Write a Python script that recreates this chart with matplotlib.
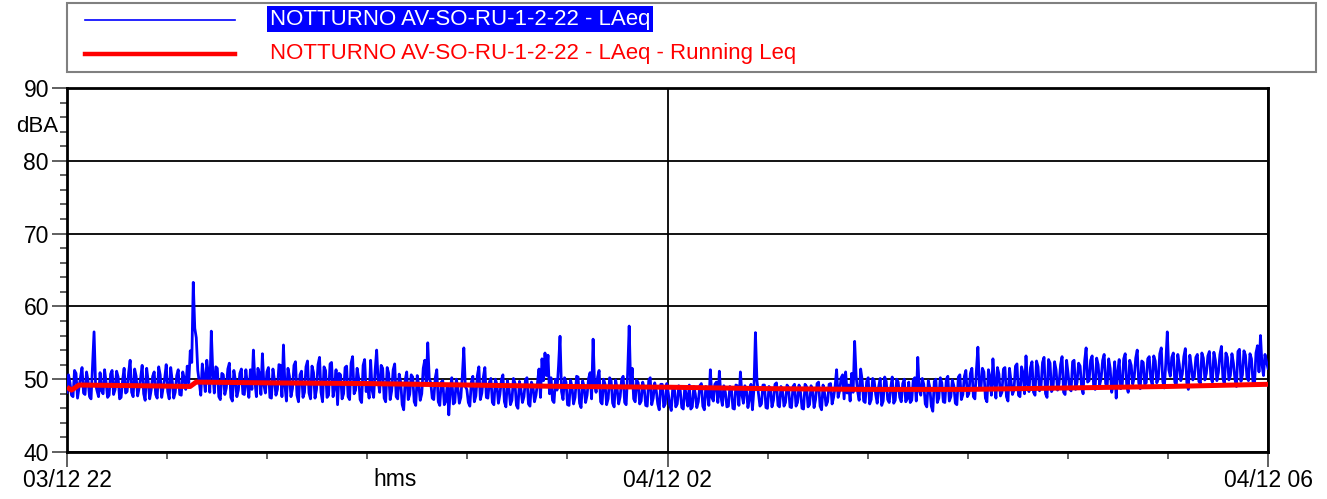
import numpy as np
import matplotlib
matplotlib.use("Agg")
import matplotlib.pyplot as plt
from matplotlib.ticker import MultipleLocator, FixedLocator
from matplotlib.patches import Rectangle
from matplotlib.lines import Line2D

plt.rcParams['font.family'] = ['Liberation Sans', 'DejaVu Sans']

# LAeq samples, 22:00 -> 06:00.
# laeq_a and laeq_b alternate in time (a0, b0, a1, b1, ...), ~36 s apart
laeq_a = [
    48.2, 49.5, 47.6, 50.8, 48.9, 51.6, 47.9, 49.8, 47.3, 56.5, 48.4, 50.9, 48.0, 49.6, 47.8, 51.2, 48.6, 50.3, 47.5, 51.5,
    48.3, 52.6, 47.6, 50.4, 48.8, 51.9, 47.1, 49.7, 48.5, 51.0, 47.4, 50.6, 48.9, 52.0, 47.3, 49.8, 48.2, 51.3, 47.8, 50.1,
    51.8, 53.9, 63.3, 55.7, 49.6, 52.1, 48.3, 50.7, 56.6, 48.1, 51.5, 47.2, 50.6, 48.8, 52.2, 47.0, 49.9, 48.5, 51.4, 47.9,
    49.2, 51.3, 54.0, 47.6, 50.8, 53.5, 48.1, 51.6, 47.4, 49.9, 48.6, 51.9, 54.7, 47.0, 50.4, 48.7, 52.4, 46.9, 51.1, 48.2,
    52.5, 47.3, 50.9, 48.6, 53.0, 46.9, 51.2, 47.8, 52.3, 48.9, 46.5, 50.6, 48.0, 51.8, 47.2, 53.1, 48.5, 50.2, 46.8, 52.7,
    49.0, 52.6, 47.5, 54.0, 48.2, 51.5, 46.9, 50.8, 48.4, 52.1, 47.3, 49.6, 45.8, 51.0, 47.9, 50.3, 46.4, 49.2, 48.0, 52.6,
    55.0, 49.5, 47.2, 51.3, 46.4, 49.8, 47.0, 45.1, 50.2, 46.8, 48.9, 47.5, 54.3, 48.6, 46.3, 50.4, 47.7, 51.7, 48.1, 51.6,
    47.4, 50.1, 46.5, 49.3, 47.9, 50.6, 46.2, 48.8, 47.1, 49.5, 46.0, 48.6, 47.6, 50.2, 46.3, 49.0, 47.8, 51.4, 52.8, 53.6,
    53.3, 50.2, 46.8, 48.5, 55.9, 47.2, 49.6, 46.4, 48.9, 47.5, 50.3, 46.1, 49.0, 47.8, 50.9, 55.5, 48.2, 51.2, 46.6, 49.3,
    47.3, 49.8, 46.2, 48.7, 47.6, 50.4, 46.5, 57.3, 51.5, 46.9, 49.5, 47.0, 48.8, 46.3, 50.2, 47.4, 48.5, 45.8, 49.3, 46.6,
    48.1, 45.7, 49.0, 46.6, 48.4, 45.9, 47.8, 49.2, 46.2, 48.0, 46.9, 49.4, 45.8, 48.3, 51.3, 47.0, 49.6, 51.1, 46.4, 48.2,
    46.3, 48.8, 45.9, 49.1, 51.0, 46.7, 48.5, 47.3, 45.8, 56.4, 48.0, 46.6, 49.2, 46.0, 48.7, 47.1, 49.5, 46.2, 48.4, 46.8,
    48.9, 46.1, 49.3, 46.8, 48.2, 45.9, 49.0, 46.5, 48.6, 47.2, 49.6, 45.8, 48.1, 46.9, 49.4, 47.5, 51.3, 48.4, 50.6, 51.0,
    49.2, 50.8, 55.2, 48.3, 51.4, 47.0, 49.7, 46.6, 50.1, 47.9, 49.0, 46.4, 50.3, 47.2, 48.8, 46.7, 50.0, 47.5, 49.4, 46.9,
    49.6, 47.1, 50.2, 53.0, 47.8, 49.3, 46.2, 48.9, 45.6, 50.0, 47.4, 49.5, 46.8, 50.4, 47.6, 49.1, 46.5, 50.6, 47.9, 51.2,
    48.0, 51.5, 47.3, 54.4, 48.6, 51.0, 46.9, 50.3, 52.8, 47.4, 50.7, 48.2, 51.6, 47.0, 49.8, 48.5, 52.1, 47.6, 50.9, 53.2,
    48.3, 52.4, 47.8, 51.7, 49.0, 53.0, 47.5, 52.2, 48.7, 51.3, 49.4, 53.1, 47.9, 50.8, 48.4, 52.6, 49.6, 51.8, 48.0, 54.3,
    49.8, 53.2, 48.6, 52.0, 50.1, 53.4, 48.9, 51.5, 49.3, 47.4, 52.7, 49.0, 53.5, 48.2, 51.9, 50.2, 54.0, 48.7, 52.3, 49.5,
    53.1, 49.2, 52.5, 50.0, 54.3, 48.8, 56.5, 50.4, 53.6, 49.1, 52.0, 50.7, 54.2, 48.6, 51.8, 50.3, 53.4, 49.4, 52.9, 50.8,
    53.8, 49.6, 52.6, 50.9, 54.5, 49.3, 53.0, 50.5, 52.2, 49.0, 54.1, 50.6, 53.3, 49.8, 52.8, 49.2, 54.6, 56.0, 50.5, 52.4,
]
laeq_b = [
    50.6, 47.8, 51.2, 47.4, 50.3, 48.1, 51.0, 47.6, 51.8, 49.3, 47.6, 48.4, 51.3, 47.5, 50.7, 47.9, 51.1, 47.3, 49.9, 48.1,
    50.9, 48.2, 51.4, 47.7, 50.2, 48.0, 51.5, 47.3, 50.4, 47.9, 51.7, 47.5, 50.1, 48.3, 51.6, 47.4, 50.5, 47.9, 51.0, 48.6,
    49.5, 52.3, 57.0, 51.2, 47.8, 50.4, 52.6, 48.2, 50.9, 51.7, 47.6, 50.8, 47.9, 51.4, 47.5, 51.2, 47.6, 50.8, 48.0, 51.3,
    47.5, 48.6, 49.8, 51.5, 47.9, 49.2, 51.0, 47.5, 51.4, 47.8, 52.0, 47.6, 49.1, 51.5, 47.6, 51.9, 47.8, 50.6, 47.5, 51.7,
    48.1, 51.8, 47.4, 52.0, 48.2, 51.7, 47.5, 52.1, 47.6, 51.3, 50.8, 47.3, 51.6, 47.6, 52.2, 48.0, 51.5, 47.2, 51.9, 48.3,
    47.4, 48.5, 51.2, 49.8, 51.9, 47.4, 51.6, 47.2, 51.3, 47.6, 50.7, 46.5, 49.9, 47.2, 50.6, 46.9, 50.5, 47.1, 51.5, 49.2,
    50.1, 47.4, 50.2, 46.9, 49.6, 46.5, 49.3, 48.6, 46.6, 50.0, 46.7, 50.4, 49.0, 46.8, 49.6, 46.9, 50.5, 47.2, 50.3, 47.5,
    49.6, 46.8, 50.0, 46.7, 49.9, 46.9, 49.8, 46.5, 50.1, 46.4, 49.7, 46.8, 49.9, 46.6, 49.6, 46.9, 49.5, 47.5, 49.8, 50.5,
    48.0, 47.1, 50.0, 51.8, 48.3, 50.2, 46.5, 49.9, 46.6, 50.4, 46.7, 49.8, 46.8, 50.1, 47.3, 49.2, 50.3, 46.9, 50.0, 46.5,
    50.2, 46.7, 49.9, 46.6, 50.0, 46.8, 50.9, 49.0, 47.3, 49.9, 46.6, 49.6, 46.4, 49.8, 46.5, 49.5, 46.6, 49.3, 46.2, 49.4,
    46.4, 48.8, 46.2, 49.1, 46.1, 48.9, 46.3, 45.9, 49.0, 46.1, 49.1, 46.3, 49.0, 46.4, 47.5, 49.3, 46.8, 47.6, 49.1, 46.2,
    49.0, 46.0, 49.2, 46.4, 47.9, 49.1, 46.1, 49.3, 48.6, 49.8, 46.3, 49.2, 46.1, 49.0, 46.2, 49.3, 46.4, 49.0, 46.3, 49.2,
    46.2, 49.0, 46.3, 49.2, 46.0, 49.3, 46.2, 49.1, 46.1, 49.4, 46.3, 49.2, 46.4, 49.3, 46.6, 49.0, 47.5, 50.2, 47.3, 48.1,
    47.0, 48.2, 50.4, 47.1, 49.9, 46.8, 50.2, 47.2, 49.8, 46.7, 50.1, 47.0, 49.7, 46.8, 50.3, 47.1, 49.6, 46.9, 50.0, 47.3,
    46.8, 49.9, 47.0, 48.4, 50.1, 46.6, 49.8, 46.3, 49.7, 46.8, 50.2, 46.9, 50.0, 47.0, 49.9, 46.7, 50.3, 47.2, 50.4, 47.6,
    50.8, 47.6, 51.2, 49.0, 51.5, 47.4, 51.3, 47.8, 49.6, 51.6, 47.7, 51.4, 47.6, 51.5, 47.9, 51.8, 47.8, 51.7, 48.0, 49.4,
    51.6, 48.2, 52.5, 48.4, 52.3, 48.0, 52.7, 48.3, 52.4, 48.5, 52.0, 48.2, 52.6, 48.7, 52.4, 48.6, 52.2, 48.9, 52.5, 49.6,
    52.6, 49.0, 52.9, 49.2, 52.6, 49.4, 52.8, 48.2, 52.4, 51.0, 48.7, 52.8, 49.1, 52.6, 49.3, 52.9, 49.5, 52.5, 49.3, 52.8,
    50.0, 53.2, 49.5, 53.5, 49.7, 52.2, 51.3, 53.0, 49.6, 53.4, 49.8, 53.1, 49.5, 53.3, 49.9, 53.0, 49.7, 53.6, 49.9, 53.2,
    50.2, 53.7, 49.8, 53.4, 50.1, 53.6, 49.9, 53.5, 50.0, 53.8, 49.7, 53.9, 50.2, 53.5, 49.6, 53.6, 51.0, 52.0, 53.4, 51.5,
]

# running Leq (hours after 22:00, dBA)
run_hours = [0, 0.03, 0.08, 0.5, 0.82, 0.86, 1.33, 2.0, 2.67, 3.33, 4.0, 4.67, 5.33, 6.0, 6.67, 7.33, 8.0]
run_leq = [48.9, 48.5, 49.2, 49.1, 49.0, 49.6, 49.5, 49.4, 49.2, 49.0, 48.9, 48.7, 48.6, 48.6, 48.8, 49.0, 49.3]

xlabels = ["03/12 22", "04/12 02", "04/12 06"]
label_blue = "NOTTURNO AV-SO-RU-1-2-22 - LAeq"
label_red = "NOTTURNO AV-SO-RU-1-2-22 - LAeq - Running Leq"

W, H = 1327, 499
fig = plt.figure(figsize=(W / 100, H / 100), dpi=100)
ax = fig.add_axes([67 / W, 1 - 452 / H, (1268 - 67) / W, (452 - 88) / H])

laeq = np.column_stack([laeq_a, laeq_b]).ravel()
hours = np.linspace(0, 8, len(laeq))
ax.plot(hours, laeq, color='#0000ff', lw=2.0, zorder=3)
ax.plot(run_hours, run_leq, color='#ff0000', lw=3.6, zorder=4, solid_capstyle='butt')

ax.set_xlim(0, 8)
ax.set_ylim(40, 90)
ax.yaxis.set_major_locator(MultipleLocator(10))
ax.yaxis.set_minor_locator(MultipleLocator(2))
ax.xaxis.set_major_locator(FixedLocator([0, 4, 8]))
ax.xaxis.set_minor_locator(MultipleLocator(2 / 3))
ax.set_xticklabels(xlabels)
ax.grid(True, which='major', color='black', lw=1.3, zorder=1)

for s in ax.spines.values():
    s.set_linewidth(2)
ax.tick_params(which='major', length=11, width=1.2, color='#444444', labelsize=16.5, pad=2)
ax.tick_params(which='minor', length=5, width=1.2, color='#444444')
ax.tick_params(axis='x', which='major', pad=1)

fig.text(395 / W, 1 - 480 / H, "hms", ha='center', va='center', fontsize=16.5)
fig.text(37 / W, 1 - 127 / H, "dBA", ha='center', va='center', fontsize=16)

# legend box drawn as in the original
fig.patches.append(Rectangle((67 / W, 1 - 72 / H), (1316 - 67) / W, 69 / H, transform=fig.transFigure,
                             fill=False, edgecolor='#808080', lw=1.5))
fig.lines.append(Line2D([85 / W, 235 / W], [1 - 20 / H] * 2, transform=fig.transFigure, color='#0000ff', lw=1.2))
fig.lines.append(Line2D([85 / W, 235 / W], [1 - 54 / H] * 2, transform=fig.transFigure, color='#ff0000', lw=3.2))
fig.text(270 / W, 1 - 19 / H, label_blue, ha='left', va='center', fontsize=16, color='white',
         bbox=dict(boxstyle='square,pad=0.12', facecolor='#0000ff', edgecolor='none'))
fig.text(270 / W, 1 - 53 / H, label_red, ha='left', va='center', fontsize=16, color='#ff0000')

plt.savefig('out.png', dpi=100)
